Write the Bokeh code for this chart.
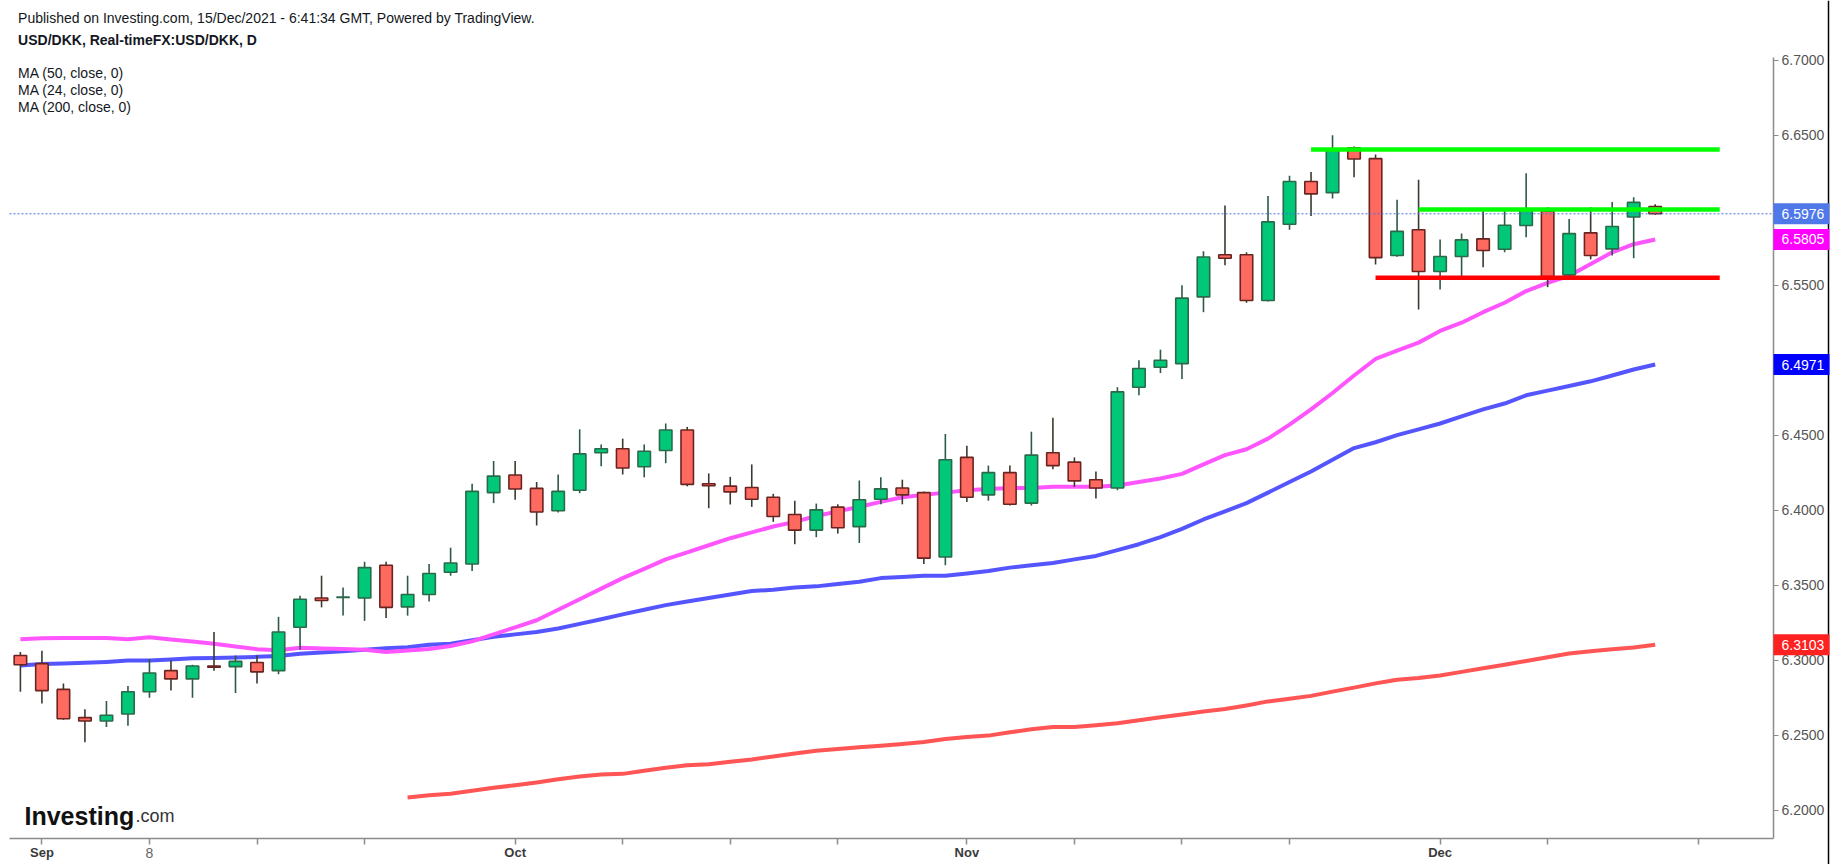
from bokeh.plotting import figure
from bokeh.models import Range1d, FixedTicker, PrintfTickFormatter, Label
from bokeh.core.properties import value
from bokeh.embed import file_html
from bokeh.resources import INLINE

# ---------------- data ----------------
opens = [6.3031, 6.2977, 6.2805, 6.2617, 6.2594, 6.2641, 6.2789, 6.2930, 6.2875, 6.2961,
         6.2957, 6.2984, 6.2930, 6.3219, 6.3414, 6.3418, 6.3414, 6.3633, 6.3355, 6.3438,
         6.3586, 6.3641, 6.4117, 6.4234, 6.4145, 6.3996, 6.4133, 6.4383, 6.4409, 6.4289,
         6.4398, 6.4535, 6.4176, 6.4160, 6.4151, 6.4086, 6.3971, 6.3867, 6.4020, 6.3890,
         6.4073, 6.4148, 6.4117, 6.3688, 6.4352, 6.4102, 6.4250, 6.4047, 6.4383, 6.4320,
         6.4203, 6.4148, 6.4820, 6.4953, 6.4977, 6.5422, 6.5703, 6.5703, 6.5398, 6.5906,
         6.6191, 6.6117, 6.6416, 6.6344, 6.5698, 6.5870, 6.5591, 6.5691, 6.5809, 6.5740,
         6.5898, 6.5994, 6.5569, 6.5849, 6.5742, 6.5955, 6.6025]
highs = [6.3055, 6.3063, 6.2844, 6.2672, 6.2727, 6.2828, 6.3008, 6.3000, 6.2969, 6.3188,
         6.3031, 6.3031, 6.3289, 6.3430, 6.3563, 6.3484, 6.3656, 6.3656, 6.3563, 6.3641,
         6.3750, 6.4176, 6.4328, 6.4328, 6.4188, 6.4238, 6.4539, 6.4438, 6.4477, 6.4438,
         6.4578, 6.4555, 6.4245, 6.4222, 6.4305, 6.4109, 6.4063, 6.4044, 6.4039, 6.4198,
         6.4219, 6.4203, 6.4125, 6.4508, 6.4430, 6.4297, 6.4297, 6.4523, 6.4617, 6.4352,
         6.4258, 6.4820, 6.5000, 6.5070, 6.5500, 6.5727, 6.6031, 6.5719, 6.6094, 6.6230,
         6.6254, 6.6500, 6.6425, 6.6371, 6.6070, 6.6203, 6.5805, 6.5844, 6.6009, 6.6009,
         6.6247, 6.6020, 6.5942, 6.6020, 6.6055, 6.6087, 6.6039]
lows = [6.2789, 6.2711, 6.2602, 6.2453, 6.2555, 6.2563, 6.2750, 6.2797, 6.2750, 6.2930,
        6.2781, 6.2844, 6.2906, 6.3070, 6.3352, 6.3297, 6.3262, 6.3281, 6.3297, 6.3391,
        6.3563, 6.3594, 6.4047, 6.4070, 6.3898, 6.3984, 6.4113, 6.4293, 6.4238, 6.4219,
        6.4313, 6.4159, 6.4013, 6.4038, 6.4022, 6.3922, 6.3773, 6.3820, 6.3844, 6.3781,
        6.4039, 6.4039, 6.3641, 6.3633, 6.4055, 6.4063, 6.4031, 6.4031, 6.4273, 6.4156,
        6.4078, 6.4133, 6.4766, 6.4914, 6.4875, 6.5320, 6.5633, 6.5383, 6.5391, 6.5870,
        6.5961, 6.6078, 6.6220, 6.5638, 6.5690, 6.5338, 6.5471, 6.5540, 6.5620, 6.5720,
        6.5820, 6.5487, 6.5536, 6.5672, 6.5698, 6.5680, 6.5969]
closes = [6.2969, 6.2797, 6.2609, 6.2594, 6.2633, 6.2789, 6.2914, 6.2875, 6.2961, 6.2953,
          6.2992, 6.2922, 6.3188, 6.3406, 6.3398, 6.3420, 6.3617, 6.3352, 6.3438, 6.3578,
          6.3648, 6.4125, 6.4227, 6.4141, 6.3988, 6.4125, 6.4375, 6.4409, 6.4281, 6.4393,
          6.4535, 6.4172, 6.4163, 6.4122, 6.4073, 6.3958, 6.3867, 6.4002, 6.3883, 6.4069,
          6.4142, 6.4102, 6.3680, 6.4336, 6.4086, 6.4250, 6.4039, 6.4367, 6.4297, 6.4195,
          6.4148, 6.4789, 6.4945, 6.5000, 6.5414, 6.5688, 6.5680, 6.5398, 6.5922, 6.6191,
          6.6109, 6.6403, 6.6341, 6.5684, 6.5859, 6.5591, 6.5691, 6.5802, 6.5731, 6.5900,
          6.6009, 6.5558, 6.5844, 6.5698, 6.5891, 6.6052, 6.5976]

ma50 = [6.2965, 6.2975, 6.2978, 6.2982, 6.2988, 6.2997, 6.2998, 6.3004, 6.3012, 6.3014,
        6.3017, 6.3022, 6.3027, 6.3042, 6.3051, 6.3059, 6.3070, 6.3080, 6.3086, 6.3102,
        6.3109, 6.3133, 6.3156, 6.3172, 6.3188, 6.3211, 6.3242, 6.3273, 6.3305, 6.3336,
        6.3367, 6.3391, 6.3414, 6.3438, 6.3461, 6.3469, 6.3484, 6.3492, 6.3508, 6.3523,
        6.3547, 6.3555, 6.3563, 6.3563, 6.3578, 6.3594, 6.3617, 6.3633, 6.3648, 6.3672,
        6.3695, 6.3734, 6.3773, 6.3820, 6.3875, 6.3938, 6.3992, 6.4047, 6.4117, 6.4188,
        6.4258, 6.4336, 6.4414, 6.4453, 6.4500, 6.4539, 6.4578, 6.4625, 6.4672, 6.4711,
        6.4766, 6.4797, 6.4828, 6.4859, 6.4898, 6.4938, 6.4971]
ma24 = [6.3140, 6.3146, 6.3148, 6.3148, 6.3148, 6.3139, 6.3153, 6.3138, 6.3124, 6.3109,
        6.3091, 6.3073, 6.3066, 6.3082, 6.3077, 6.3075, 6.3069, 6.3055, 6.3064, 6.3074,
        6.3094, 6.3125, 6.3172, 6.3219, 6.3266, 6.3336, 6.3406, 6.3477, 6.3547, 6.3609,
        6.3672, 6.3719, 6.3766, 6.3813, 6.3852, 6.3891, 6.3922, 6.3961, 6.3992, 6.4023,
        6.4055, 6.4086, 6.4102, 6.4117, 6.4133, 6.4141, 6.4148, 6.4148, 6.4156, 6.4156,
        6.4156, 6.4164, 6.4188, 6.4211, 6.4242, 6.4305, 6.4367, 6.4406, 6.4477, 6.4570,
        6.4672, 6.4781, 6.4898, 6.5008, 6.5063, 6.5117, 6.5195, 6.5250, 6.5320, 6.5383,
        6.5461, 6.5516, 6.5563, 6.5641, 6.5719, 6.5773, 6.5805]
ma200 = [None] * 18 + [
        6.2084, 6.2100, 6.2109, 6.2130, 6.2149, 6.2166, 6.2185, 6.2206, 6.2225, 6.2238,
        6.2242, 6.2263, 6.2282, 6.2299, 6.2306, 6.2322, 6.2338, 6.2358, 6.2378, 6.2396,
        6.2407, 6.2419, 6.2430, 6.2441, 6.2455, 6.2475, 6.2488, 6.2497, 6.2519, 6.2539,
        6.2554, 6.2555, 6.2566, 6.2580, 6.2600, 6.2620, 6.2638, 6.2658, 6.2674, 6.2698,
        6.2725, 6.2743, 6.2762, 6.2790, 6.2817, 6.2845, 6.2870, 6.2881, 6.2898, 6.2922,
        6.2946, 6.2970, 6.2994, 6.3020, 6.3045, 6.3059, 6.3072, 6.3084, 6.3103]

# support / resistance levels drawn on the chart
level_values = [6.6405, 6.6005, 6.5549]
level_start = [60, 65, 63]
level_end = [79, 79, 79]
level_colors = ["#00ff00", "#00ff00", "#ff0000"]

# x axis (bar index of each tick and its label)
tick_bars = [1, 6, 11, 16, 23, 28, 33, 38, 44, 49, 54, 59, 66, 71, 78]
tick_labels = ["Sep", "", "", "", "Oct", "", "", "", "Nov", "", "", "", "Dec", "", ""]
day_label_bar = 6
day_label_text = "8"

price_ticks = [6.20, 6.25, 6.30, 6.35, 6.40, 6.45, 6.50, 6.55, 6.60, 6.65, 6.70]

title_text = "Published on Investing.com, 15/Dec/2021 - 6:41:34 GMT, Powered by TradingView."
symbol_text = "USD/DKK, Real-timeFX:USD/DKK, D"
legend_texts = ["MA (50, close, 0)", "MA (24, close, 0)", "MA (200, close, 0)"]

# ---------------- layout ----------------
FONT = "Liberation Sans"
W, H = 1835, 864
x_lo, x_hi = -0.507, 81.5
y_lo, y_hi = 6.1811, 6.7018
pane_left, pane_right, pane_top, pane_bottom = 9, 1773, 57, 838   # pixels of the price pane
xpp = (x_hi - x_lo) / (pane_right - pane_left)
ypp = (y_hi - y_lo) / (pane_bottom - pane_top)
xr = Range1d(x_lo - pane_left * xpp, x_hi + (W - pane_right) * xpp)
yr = Range1d(y_lo - (H - pane_bottom) * ypp, y_hi + pane_top * ypp)

def px_to_x(px):
    return x_lo + (px - pane_left) * xpp

p = figure(width=W, height=H, output_backend="svg", toolbar_location=None,
           x_range=xr, y_range=yr, y_axis_location="right", min_border=0)
p.background_fill_color = "white"
p.border_fill_color = "white"
p.outline_line_color = None
p.grid.visible = False

n = len(opens)
idx = list(range(n))
ma200f = [float("nan") if v is None else v for v in ma200]

# moving averages (under the candles)
p.line(idx, ma200f, line_color="#ff5555", line_width=4, line_join="round")
p.line(idx, ma50, line_color="#5555ff", line_width=4, line_join="round")
p.line(idx, ma24, line_color="#ff55ff", line_width=4, line_join="round")

# candles
up = [c >= o for o, c in zip(opens, closes)]
body_top = [max(o, c) for o, c in zip(opens, closes)]
body_bot = [min(o, c) for o, c in zip(opens, closes)]
fill = ["#00c878" if u else "#ff6a60" for u in up]
edge = ["#2a6a4a" if u else "#6a2420" for u in up]
wick = ["#2c5a44" if u else "#3a3a30" for u in up]
p.segment(x0=idx, y0=lows, x1=idx, y1=highs, line_color=wick, line_width=1.6)
p.vbar(x=idx, width=0.58, top=body_top, bottom=body_bot,
       fill_color=fill, line_color=edge, line_width=1.6)

# horizontal levels
p.segment(x0=level_start, y0=level_values, x1=level_end, y1=level_values,
          line_color=level_colors, line_width=4.5)

# last price line across the pane
p.segment(x0=[x_lo], y0=[closes[-1]], x1=[x_hi], y1=[closes[-1]],
          line_color="#4a6fe0", line_dash="2 2", line_width=1)

# axes (fixed at the pane edges)
xa = p.xaxis[0]
xa.fixed_location = y_lo
xa.bounds = (x_lo, x_hi)
xa.ticker = FixedTicker(ticks=tick_bars)
xa.major_label_overrides = {b: t for b, t in zip(tick_bars, tick_labels)}
xa.axis_line_color = "#8c8c8c"
xa.axis_line_width = 1.5
xa.major_tick_line_color = "#8c8c8c"
xa.major_tick_line_width = 1.5
xa.major_tick_out = 6
xa.major_tick_in = 0
xa.minor_tick_out = 0
xa.minor_tick_in = 0
xa.major_label_standoff = 0
xa.major_label_text_font = FONT
xa.major_label_text_font_size = "13px"
xa.major_label_text_font_style = "bold"
xa.major_label_text_color = "#3a3a3a"

ya = p.yaxis[0]
ya.fixed_location = x_hi
ya.bounds = (y_lo, y_hi)
ya.ticker = FixedTicker(ticks=price_ticks)
ya.formatter = PrintfTickFormatter(format="%.4f")
ya.axis_line_color = "#8c8c8c"
ya.axis_line_width = 1.5
ya.major_tick_line_color = "#8c8c8c"
ya.major_tick_out = 5
ya.major_tick_in = 0
ya.minor_tick_out = 0
ya.minor_tick_in = 0
ya.major_label_standoff = 3
ya.major_label_text_font = FONT
ya.major_label_text_font_size = "14px"
ya.major_label_text_color = "#555555"

# day label (lighter style than the month labels)
p.add_layout(Label(x=day_label_bar, y=H - 852, x_units="data", y_units="screen",
                   text=day_label_text, text_align="center", text_baseline="middle",
                   text_font=FONT, text_font_size="14px", text_color="#666666"))

# header texts
p.add_layout(Label(x=17.6, y=H - 17.6, x_units="screen", y_units="screen", text=title_text,
                   text_font=FONT, text_font_size="14px", text_color="#131722",
                   text_baseline="middle"))
p.add_layout(Label(x=17.6, y=H - 39.8, x_units="screen", y_units="screen", text=symbol_text,
                   text_font=FONT, text_font_size="14px", text_font_style="bold",
                   text_color="#131722", text_baseline="middle"))
for k, t in enumerate(legend_texts):
    p.add_layout(Label(x=17.6, y=H - 72.6 - 17.0 * k, x_units="screen", y_units="screen", text=t,
                       text_font=FONT, text_font_size="14px", text_color="#131722",
                       text_baseline="middle"))

# logo
p.add_layout(Label(x=24, y=H - 815.7, x_units="screen", y_units="screen", text="Investing",
                   text_font=FONT, text_font_size="25px", text_font_style="bold",
                   text_color="#111111", text_baseline="alphabetic"))
p.add_layout(Label(x=135, y=H - 815.7, x_units="screen", y_units="screen", text=".com",
                   text_font=FONT, text_font_size="18px", text_color="#333333",
                   text_baseline="alphabetic"))

# price badges on the price scale (drawn above the axis)
badge_vals = [closes[-1], ma24[-1], ma50[-1], ma200[-1]]
badge_cols = ["#4f78e8", "#ff00ff", "#0000ff", "#ff2020"]
bh = 21 * ypp
p.quad(left=[px_to_x(pane_right)] * 4, right=[px_to_x(1829)] * 4,
       top=[v + bh / 2 for v in badge_vals], bottom=[v - bh / 2 for v in badge_vals],
       fill_color=badge_cols, line_color=None, level="overlay")
p.text(x=[px_to_x(1781)] * 4, y=badge_vals, text=["%.4f" % v for v in badge_vals],
       text_color="white", text_font=value(FONT), text_font_size="14px",
       text_baseline="middle", text_align="left", level="overlay")

# thin right border of the picture
p.segment(x0=[px_to_x(1828)], y0=[yr.start], x1=[px_to_x(1828)], y1=[yr.end],
          line_color="#000000", line_width=1.5)

open("out.html", "w").write(file_html(p, INLINE))
